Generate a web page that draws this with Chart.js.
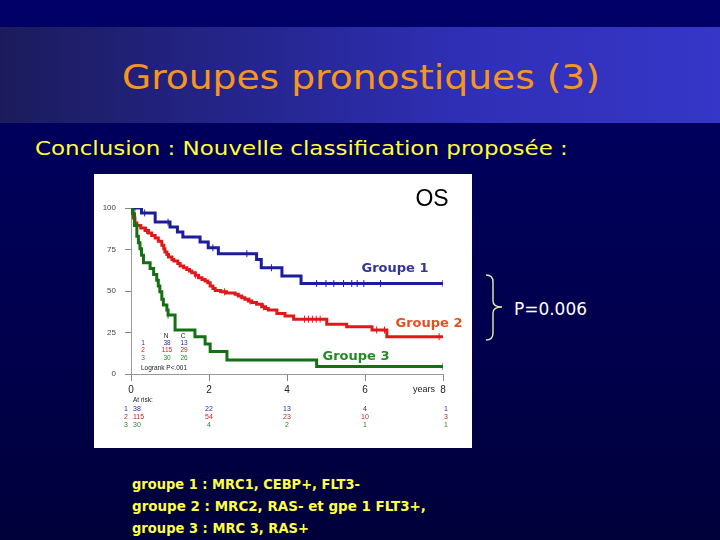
<!DOCTYPE html>
<html><head><meta charset="utf-8">
<script src="https://cdn.jsdelivr.net/npm/chart.js@4/dist/chart.umd.min.js"></script>
<style>
html,body{margin:0;padding:0;}
body{width:720px;height:540px;overflow:hidden;position:relative;background:linear-gradient(to bottom,#000068 0px,#00005c 130px,#00004c 350px,#00003a 540px);font-family:"DejaVu Sans",sans-serif;}
#band{position:absolute;left:0;top:27px;width:720px;height:96px;background:linear-gradient(to right,#1b1b5c 0%,#25258e 35%,#2f2fb6 65%,#3636c8 100%);}
.t{position:absolute;white-space:nowrap;transform-origin:0 50%;line-height:1;}
#panel{position:absolute;left:94px;top:174px;width:378px;height:274px;background:#fff;}
#c{position:absolute;left:94px;top:174px;}
#brace{position:absolute;left:480px;top:270px;}
</style></head><body>
<div id="band"></div>
<div class="t" data-w="478" style="left:122px;top:60px;font-size:34px;color:#f7951f;">Groupes pronostiques (3)</div>
<div class="t" data-w="533" style="left:35px;top:138px;font-size:20px;color:#ffff33;">Conclusion : Nouvelle classification proposée :</div>
<div id="panel"></div>
<canvas id="c" width="378" height="274"></canvas>
<svg id="brace" width="30" height="80"><path d="M6,5 Q13,5 13,12 L13,31 Q13,37 22,37 Q13,37 13,43 L13,63 Q13,70 6,70" fill="none" stroke="#e8e8b4" stroke-width="1.4"/></svg>
<div class="t" data-w="73" style="left:514px;top:300px;font-size:18px;color:#ffffff;">P=0.006</div>
<div class="t" data-w="228" style="left:132px;top:477px;font-size:14px;font-weight:bold;color:#ffff44;">groupe 1 : MRC1, CEBP+, FLT3-</div>
<div class="t" data-w="294" style="left:132px;top:499px;font-size:14px;font-weight:bold;color:#ffff44;">groupe 2 : MRC2, RAS- et gpe 1 FLT3+,</div>
<div class="t" data-w="177" style="left:132px;top:521px;font-size:14px;font-weight:bold;color:#ffff44;">groupe 3 : MRC 3, RAS+</div>
<script>
// ---- data ----
const yearTicks = [0, 2, 4, 6, 8];
const survTicks = [0, 25, 50, 75, 100];
const groupNames = ['Groupe 1', 'Groupe 2', 'Groupe 3'];

const g1Time = [0, 0.27, 0.62, 1.0, 1.19, 1.33, 1.77, 1.98, 2.24, 3.22, 3.34, 3.87, 4.36, 8];
const g1Surv = [100, 97, 91.5, 88.5, 85.5, 82.5, 79.5, 76, 72.5, 69, 64, 59, 54.5, 54.5];

const g2Time = [0, 0.03, 0.06, 0.1, 0.15, 0.25, 0.36, 0.45, 0.53, 0.62, 0.70, 0.79, 0.84, 0.87, 0.92, 0.96, 1.05, 1.1, 1.2, 1.26, 1.35, 1.43, 1.5, 1.56, 1.65, 1.73, 1.82, 1.9, 1.97, 2.03, 2.1, 2.16, 2.3, 2.45, 2.67, 2.75, 2.84, 2.92, 3.01, 3.1, 3.22, 3.35, 3.45, 3.52, 3.74, 3.95, 4.17, 5.02, 5.53, 6.18, 6.56, 8];
const g2Surv = [100, 97, 94, 91, 89.5, 88, 86.5, 85, 83.5, 82, 80, 77.5, 75.5, 73.5, 72, 70.5, 69, 68, 66.5, 65, 64, 63, 62, 61, 59.5, 58, 57, 56, 55, 53, 51.5, 50.3, 49.5, 48.8, 48, 47, 46, 45, 44, 43, 42, 40.5, 39.5, 38.5, 36.5, 35, 33, 30, 28.5, 26.5, 22.5, 22.5];

const g3Time = [0, 0.04, 0.09, 0.15, 0.19, 0.23, 0.27, 0.32, 0.49, 0.58, 0.66, 0.70, 0.74, 0.79, 0.83, 0.92, 0.95, 1.13, 1.64, 1.90, 2.03, 2.46, 4.76, 8];
const g3Surv = [100, 96.5, 89.5, 83, 79, 75.5, 71.5, 67, 63.5, 60, 56.5, 53, 49.5, 45, 41.5, 38.5, 35.5, 26.5, 22.5, 18, 13.5, 8.5, 4.5, 4.5];

const g1Censor = [0.1, 0.35, 0.95, 2.1, 2.97, 3.6, 4.76, 5.0, 5.2, 5.45, 5.66, 5.8, 5.97, 6.4, 8.0];
const g2Censor = [0.4, 1.65, 2.4, 3.05, 3.4, 4.45, 4.55, 4.65, 4.75, 4.85, 6.3, 6.5, 7.9];
const g3Censor = [0.95, 8.0];

const atRisk1 = [38, 22, 13, 4, 1];
const atRisk2 = [115, 54, 23, 10, 3];
const atRisk3 = [30, 4, 2, 1, 1];
const legendN = [38, 115, 30];
const legendC = [13, 29, 26];
const logrankText = 'Logrank P<.001';

// ---- styling ----
const lineCols = ['#1c1c9c', '#e01818', '#157015'];
const textCols = ['#2a2aa0', '#d02020', '#228822'];
const labelCols = ['#333399', '#e05020', '#228b22'];

function pts(t, s) { return t.map((x, i) => ({x: x, y: s[i]})); }
function survAt(t, s, x) { let v = s[0]; for (let i = 0; i < t.length; i++) { if (t[i] <= x) v = s[i]; } return v; }
function cens(t, s, c) { return c.map(x => ({x: x, y: survAt(t, s, x)})); }

const curves = [[g1Time, g1Surv, g1Censor], [g2Time, g2Surv, g2Censor], [g3Time, g3Surv, g3Censor]];
const datasets = [];
curves.forEach((c, i) => {
  datasets.push({data: pts(c[0], c[1]), borderColor: lineCols[i], borderWidth: 3, stepped: true, pointRadius: 0, fill: false, order: 3 - i});
});
curves.forEach((c, i) => {
  datasets.push({data: cens(c[0], c[1], c[2]), showLine: false, pointStyle: 'line', pointRotation: 90, pointRadius: 3.5, pointBorderColor: lineCols[i], pointBorderWidth: 1, borderColor: lineCols[i]});
});

const annot = {
  id: 'annot',
  afterDraw(chart) {
    const ctx = chart.ctx, a = chart.chartArea, xs = chart.scales.x;
    ctx.save();
    // OS
    ctx.fillStyle = '#000'; ctx.textAlign = 'center'; ctx.textBaseline = 'middle';
    ctx.font = '23px "Liberation Sans", sans-serif';
    ctx.fillText('OS', 338, 26);
    // group labels
    ctx.font = 'bold 13px "DejaVu Sans", sans-serif';
    const gl = [[301, 95], [335, 150], [262, 183]];
    groupNames.forEach((g, i) => { ctx.fillStyle = labelCols[i]; ctx.fillText(g, gl[i][0], gl[i][1]); });
    // inset legend
    ctx.font = '6.5px "Liberation Sans", sans-serif';
    ctx.fillStyle = '#222';
    ctx.fillText('N', 72, 162); ctx.fillText('C', 89, 162);
    [169, 176, 184].forEach((y, i) => {
      ctx.fillStyle = textCols[i];
      ctx.fillText(String(i + 1), 49, y);
      ctx.fillText(String(legendN[i]), 73, y);
      ctx.fillText(String(legendC[i]), 90, y);
    });
    ctx.fillStyle = '#222'; ctx.textAlign = 'left';
    ctx.fillText(logrankText, 47, 194);
    // years label
    ctx.font = '9px "Liberation Sans", sans-serif';
    ctx.textAlign = 'right';
    ctx.fillText('years', xs.getPixelForValue(8) - 8, 216);
    // at risk table
    ctx.font = '6.5px "Liberation Sans", sans-serif';
    ctx.textAlign = 'left'; ctx.fillStyle = '#222';
    ctx.fillText('At risk:', a.left + 2, 226);
    const rows = [atRisk1, atRisk2, atRisk3];
    [235, 243, 251].forEach((y, r) => {
      ctx.fillStyle = textCols[r];
      ctx.font = '7px "Liberation Sans", sans-serif';
      ctx.textAlign = 'right';
      ctx.fillText(String(r + 1), a.left - 3, y);
      rows[r].forEach((v, k) => {
        const px = xs.getPixelForValue(yearTicks[k]);
        if (k === 0) { ctx.textAlign = 'left'; ctx.fillText(String(v), px + 2, y); }
        else { ctx.textAlign = 'center'; ctx.fillText(String(v), px + (k === 4 ? 3 : 0), y); }
      });
    });
    ctx.restore();
  }
};

new Chart(document.getElementById('c'), {
  type: 'line',
  data: {datasets: datasets},
  options: {
    responsive: false, animation: false, devicePixelRatio: 1,
    layout: {padding: {top: 34, right: 29, left: 0, bottom: 0}},
    plugins: {legend: {display: false}, tooltip: {enabled: false}},
    scales: {
      x: {type: 'linear', min: 0, max: 8,
        afterBuildTicks: s => { s.ticks = yearTicks.map(v => ({value: v})); },
        afterFit: s => { s.height = 74; },
        ticks: {font: {size: 10, family: '"Liberation Sans", sans-serif'}, color: '#222', padding: 3, maxRotation: 0},
        grid: {drawOnChartArea: false, tickLength: 7, color: '#888'},
        border: {color: '#999', width: 1}},
      y: {type: 'linear', min: 0, max: 100,
        afterBuildTicks: s => { s.ticks = survTicks.map(v => ({value: v})); },
        afterFit: s => { s.width = 37; },
        ticks: {font: {size: 8, family: '"Liberation Sans", sans-serif'}, color: '#444', padding: 9},
        grid: {drawOnChartArea: false, tickLength: 6, color: '#888'},
        border: {color: '#999', width: 1}}
    }
  },
  plugins: [annot]
});

// fit slide texts to widths
document.querySelectorAll('.t[data-w]').forEach(el => {
  el.style.display = 'inline-block';
  const w = el.getBoundingClientRect().width;
  const target = parseFloat(el.dataset.w);
  if (w > 0) el.style.transform = 'scaleX(' + (target / w).toFixed(3) + ')';
});
</script>
</body></html>
